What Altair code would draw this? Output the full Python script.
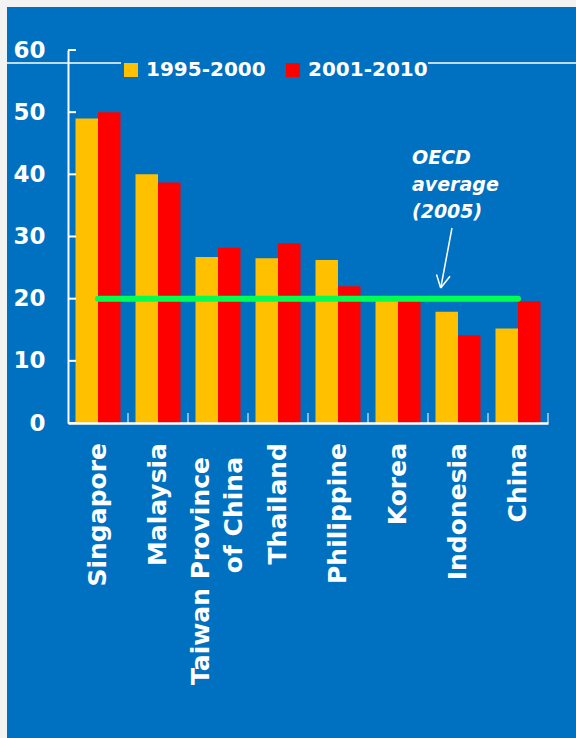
import altair as alt
import pandas as pd

# Savings rates by economy, two periods
countries = ["Singapore", "Malaysia", "Taiwan Province\nof China", "Thailand",
             "Philippine", "Korea", "Indonesia", "China"]
periods = ["1995-2000", "2001-2010"]
rate_1995_2000 = [49.0, 40.0, 26.7, 26.5, 26.2, 19.9, 17.9, 15.2]
rate_2001_2010 = [50.0, 38.7, 28.2, 28.9, 22.0, 19.6, 14.1, 19.6]
oecd_average = 20
y_ticks = [0, 10, 20, 30, 40, 50, 60]

BLUE = "#0070C0"
FONT = "DejaVu Sans"
W, H = 480, 373

bars_df = pd.DataFrame(
    [{"country": c, "period": periods[0], "rate": v} for c, v in zip(countries, rate_1995_2000)]
    + [{"country": c, "period": periods[1], "rate": v} for c, v in zip(countries, rate_2001_2010)]
)

x_scale = alt.Scale(domain=countries, paddingInner=0, paddingOuter=0)
y_scale = alt.Scale(domain=[0, 60], nice=False, zero=True)

x_axis = alt.Axis(labels=False, ticks=False, tickSize=0, title=None, grid=False,
                  domainColor="white", domainWidth=2.5, zindex=2)
y_axis = alt.Axis(values=y_ticks, ticks=False, tickSize=0, grid=False, title=None,
                  labelPadding=23, labelFont=FONT, labelFontWeight="bold",
                  labelFontSize=23, labelColor="white",
                  domainColor="white", domainWidth=2, zindex=2)

one = alt.Data(values=[{}])

# slide backdrop and the thin rule across the top
backdrop = alt.Chart(one).mark_rect(color=BLUE).encode(
    x=alt.value(-61), x2=alt.value(W + 28), y=alt.value(-43), y2=alt.value(H + 315)
)
top_rule = alt.Chart(one).mark_rule(color="white", strokeWidth=1.5).encode(
    x=alt.value(-61), x2=alt.value(W + 28), y=alt.value(13)
)

bars = alt.Chart(bars_df).mark_bar().encode(
    x=alt.X("country:N", scale=x_scale, axis=x_axis),
    xOffset=alt.XOffset("period:N", sort=periods,
                        scale=alt.Scale(domain=periods, paddingInner=0, paddingOuter=0.333)),
    y=alt.Y("rate:Q", scale=y_scale, axis=y_axis),
    color=alt.Color("period:N",
                    scale=alt.Scale(domain=periods, range=["#FFC000", "#FF0000"]),
                    legend=alt.Legend(title=None, orient="none", legendX=53, legendY=10,
                                      direction="horizontal", symbolType="square",
                                      symbolSize=196, symbolStrokeWidth=0,
                                      symbolOpacity=1, labelFont=FONT,
                                      labelFontWeight="bold", labelFontSize=20,
                                      labelColor="white", labelOffset=5,
                                      columnPadding=17, padding=0,
                                      fillColor=BLUE, zindex=2)),
)

# inward ticks on the value axis
ytick_df = pd.DataFrame({"t": y_ticks})
yticks = alt.Chart(ytick_df).mark_rule(color="white", strokeWidth=2).encode(
    y=alt.Y("t:Q", scale=y_scale, axis=y_axis), x=alt.value(0), x2=alt.value(8)
)

# inward ticks between categories
xtick_df = pd.DataFrame({"country": countries})
xticks = alt.Chart(xtick_df).mark_rule(color="#B5D0EA", strokeWidth=1.5).encode(
    x=alt.X("country:N", scale=x_scale, axis=x_axis, bandPosition=1),
    y=alt.value(H - 10), y2=alt.value(H)
)

# category labels, rotated; the two-line label is shifted to sit centred on its band
# (dx/dy act in the rotated text frame)
two_line = "indexof(datum.country, '\\n') >= 0"
label_style = dict(angle=270, align="right", baseline="middle", lineBreak="\n",
                   lineHeight=33, font=FONT, fontWeight="bold", fontSize=25,
                   color="white")
label_enc = dict(x=alt.X("country:N", scale=x_scale, axis=x_axis),
                 y=alt.value(H + 20), text="country:N")
xlabels = alt.Chart(xtick_df).transform_filter(f"!({two_line})").mark_text(
    **label_style).encode(**label_enc)
xlabels_two = alt.Chart(xtick_df).transform_filter(two_line).mark_text(
    dx=-14, dy=-17, **label_style).encode(**label_enc)

# OECD average reference line
oecd_df = pd.DataFrame([{"start": countries[0], "end": countries[-1], "v": oecd_average}])
oecd_line = alt.Chart(oecd_df).mark_rule(color="#00FF50", strokeWidth=6, strokeCap="round").encode(
    x=alt.X("start:N", scale=x_scale, axis=x_axis), x2="end:N",
    y=alt.Y("v:Q", scale=y_scale, axis=y_axis)
)

note = alt.Chart(one).mark_text(
    text="OECD\naverage\n(2005)", lineBreak="\n", lineHeight=27,
    align="left", baseline="top", font=FONT, fontWeight="bold",
    fontStyle="italic", fontSize=19, color="white"
).encode(x=alt.value(344), y=alt.value(99))

arrow_shaft = alt.Chart(one).mark_rule(color="white", strokeWidth=1.5).encode(
    x=alt.value(384), y=alt.value(178), x2=alt.value(372.7), y2=alt.value(238)
)
arrow_left = alt.Chart(one).mark_rule(color="white", strokeWidth=1.5).encode(
    x=alt.value(372.7), y=alt.value(238), x2=alt.value(368.5), y2=alt.value(224.5)
)
arrow_right = alt.Chart(one).mark_rule(color="white", strokeWidth=1.5).encode(
    x=alt.value(372.7), y=alt.value(238), x2=alt.value(382), y2=alt.value(226.3)
)

chart = alt.layer(
    backdrop, top_rule, bars, oecd_line, yticks, xticks, xlabels, xlabels_two,
    note, arrow_shaft, arrow_left, arrow_right
).properties(
    width=W, height=H,
    background="#F3F3F3",
    padding={"left": 68, "top": 50, "right": 28, "bottom": 315},
    autosize=alt.AutoSizeParams(type="none"),
).configure_view(strokeWidth=0)

chart.save("out.html", embed_options={"renderer": "svg", "actions": False})
